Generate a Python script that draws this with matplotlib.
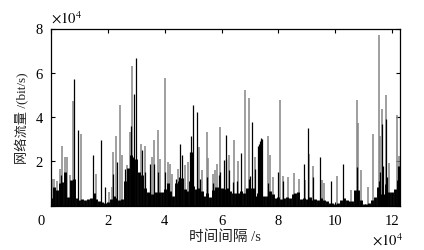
import numpy as np
import matplotlib
matplotlib.use('Agg')
import matplotlib.pyplot as plt
from matplotlib.transforms import ScaledTranslation

plt.rcParams['font.family'] = ['Liberation Serif', 'Noto Sans CJK SC']
plt.rcParams['mathtext.fontset'] = 'stix'

# everything in units of 1e4
base_x = [i / 10 for i in range(123)]
base_y = [.35, .85, .7, 1.0, 1.05, 1.5, .4, 1.15, 1.2, .35,
          .25, .3, .25, .3, .35, .55, .3, .2, .15, .1,
          .15, .3, .45, .35, .25, .3, 1.1, 1.7, 2.3, 2.2,
          2.1, 1.5, 1.4, .8, .6, .5, .5, .6, .6, .6,
          .75, 1.0, .65, .45, 1.0, 1.1, 1.25, .75, .65, 1.1,
          .9, .75, .8, .65, .45, .55, .4, .7, .85, .85,
          .8, .75, .8, .65, .55, .55, .55, .65, .55, .8,
          .8, .8, .45, .55, .7, .45, .45, .65, .5, .35,
          .4, .3, .35, .4, .35, .5, .55, .6, .3, .35,
          .3, .4, .25, .3, .25, .35, .25, .2, .1, .1,
          .05, .1, .25, .35, .25, .2, .2, .7, .7, .25,
          .05, .05, .1, .25, .4, .85, .5, .5, .95, .6,
          .6, .75, 1.15]

grey_x = [.05, .12, .2, .3, .4, .5, .58, .68, .76, 1.06, 1.57, 2.04, 2.14, 2.18, 2.28,
          2.43, 2.51, 2.67, 2.77, 2.84, 3.16, 3.32, 3.55, 3.63, 3.76, 3.83, 4.02, 4.13,
          4.19, 4.27, 4.46, 4.72, 4.81, 5.22, 5.30, 5.49, 5.54, 5.71, 5.77, 5.85, 5.94,
          6.27, 6.44, 6.58, 6.83, 6.97, 7.17, 7.64, 7.69, 7.80, 8.05, 8.18, 8.33, 8.54,
          8.71, 8.95, 9.09, 9.22, 9.54, 9.61, 10.08, 10.55, 10.75, 10.80, 10.92, 11.14,
          11.33, 11.53, 11.58, 11.65, 11.80, 11.89, 12.18, 12.26]
grey_y = [1.2, 1.2, 1.1, 1.65, 2.7, 2.2, 2.2, 1.4, 4.74, 3.23, 1.42, .62, .82, 2.41, 3.16,
          4.52, 2.28, 1.83, 3.34, 6.3, 2.78, 2.69, 2.2, 2.98, 3.43, 2.1, 5.75, 1.98,
          1.88, 1.42, 1.65, 1.83, 1.95, 2.63, 1.6, 3.34, 2.13, 1.42, 1.62, 1.88, 3.57,
          2.3, 2.96, 2.03, 5.24, 4.88, 2.18, 3.13, 2.28, 1.27, 4.79, 1.35, 1.28, 1.46,
          1.2, 1.15, 2.34, 1.78, 1.13, 1.02, 1.32, .72, 4.75, 3.72, 1.6, .82,
          3.23, 7.72, 3.16, 4.34, 5.0, 1.9, 4.1, 2.22]

black_x = [.34, .82, .96, 1.49, 1.77, 1.91, 2.18, 2.32, 2.61, 2.80, 2.93, 3.0, 3.2, 3.32,
           3.5, 3.64, 3.76, 4.02, 4.4, 4.5, 4.55, 4.6, 4.9, 4.93, 4.96, 5.01, 5.15, 5.25,
           5.49, 5.7, 5.9, 5.94, 6.07, 6.14, 6.17, 6.25, 6.4, 6.55, 6.70, 6.95, 7.0, 7.09,
           7.17, 7.30, 7.33, 7.36, 7.39, 7.43, 7.65, 8.0, 8.15, 8.89, 9.03, 9.22, 9.46,
           9.86, 10.27, 10.78, 11.53, 11.58, 11.65, 11.68, 11.77, 11.82, 12.22, 12.26]
black_y = [1.4, 5.72, 3.42, 2.28, 2.96, .82, 1.42, 1.98, 1.65, 3.6, 5.05, 6.67, 2.5, 1.5,
           1.87, 1.87, 1.5, 1.5, 1.2, 1.3, 2.78, 2.3, 2.4, 3.13, 2.4, 4.56, 4.22, 1.2,
           1.27, 1.0, 1.4, 1.5, 2.05, 3.19, 2.1, 1.6, 1.05, 1.1, 2.36, 1.2, 1.35, 3.76,
           1.65, 2.7, 2.78, 2.9, 3.05, 3.0, 1.0, 1.5, 1.1, 1.88, 3.51, 1.3, 2.18,
           1.09, 1.88, 1.73, 1.1, 1.5, 3.69, 1.8, 3.91, 1.3, 1.8, 1.8]

xticks = [0, 2, 4, 6, 8, 10, 12]
yticks = [0, 2, 4, 6, 8]

fig = plt.figure(figsize=(4.24, 2.51), dpi=100)
ax = fig.add_axes([51 / 424, 1 - 206.5 / 251, 349 / 424, 177 / 251])

ax.vlines(grey_x, 0, grey_y, color='#858585', lw=1.1)
ax.vlines(base_x, 0, base_y, color='black', lw=2.1)
ax.vlines(black_x, 0, black_y, color='black', lw=0.9)

ax.set_xlim(0, 12.28)
ax.set_ylim(0, 8)
ax.set_xticks(xticks)
ax.set_xticklabels([str(t) for t in xticks], fontsize=10.5)
ax.set_yticks(yticks)
ax.set_yticklabels(['', '2', '4', '6', '8'], fontsize=10.5)
ax.tick_params(direction='in', top=True, right=True, length=3, width=0.8, pad=6)
for s in ax.spines.values():
    s.set_linewidth(0.9)

# the 0 sits left of the corner in the original
zero = ax.get_xticklabels()[0]
zero.set_transform(zero.get_transform() + ScaledTranslation(-10 / 100, 0, fig.dpi_scale_trans))

fig.text(225 / 424, 1 - 237 / 251, '时间间隔 /s', fontsize=10.5, ha='center', va='center', color='#222222')
fig.text(22 / 424, 1 - 118 / 251, '网络流量 /(bit/s)', fontsize=9.5, rotation=90,
         ha='center', va='center', color='#222222')
fig.text(51 / 424, 1 - 18 / 251, r'$\times 10^{4}$', fontsize=10.5, va='center')
fig.text(372 / 424, 1 - 240 / 251, r'$\times 10^{4}$', fontsize=10.5, va='center')

fig.savefig('out.png', dpi=100)
